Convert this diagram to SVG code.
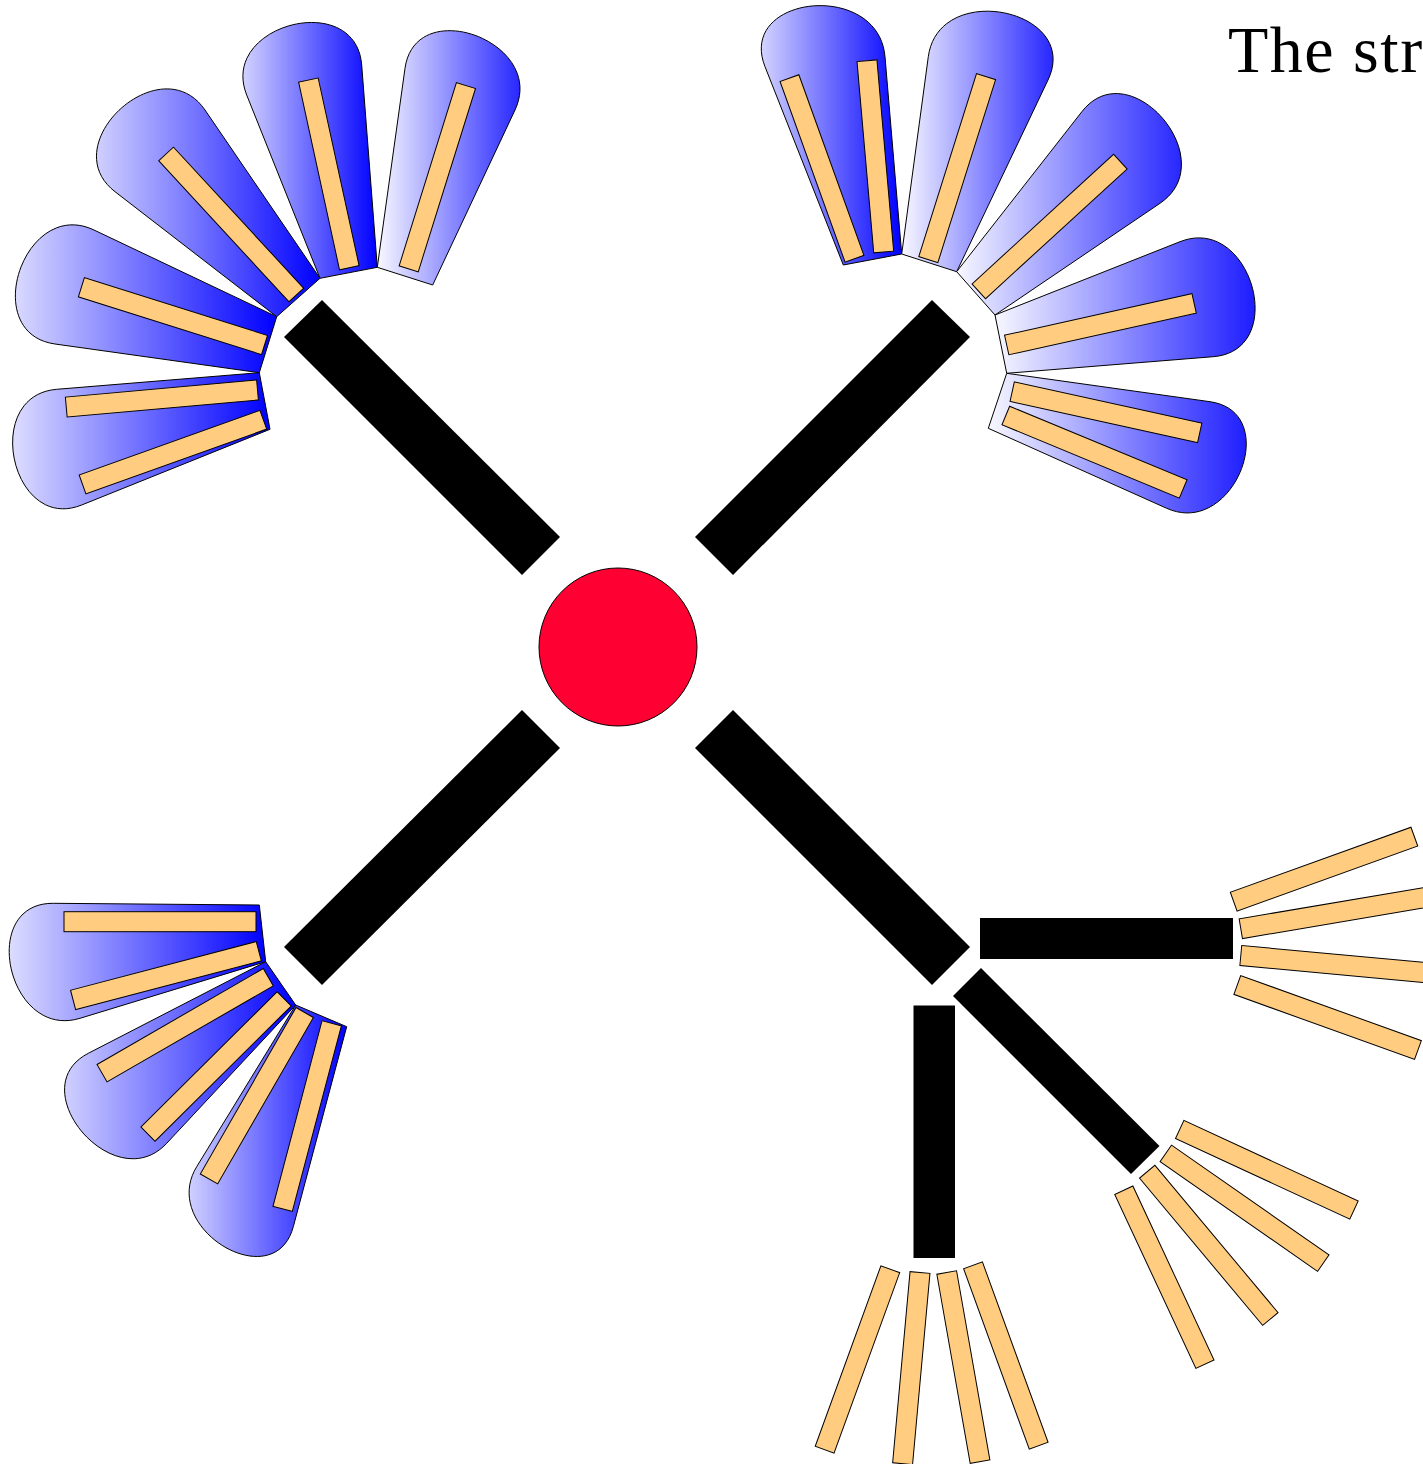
<svg xmlns="http://www.w3.org/2000/svg" xmlns:xlink="http://www.w3.org/1999/xlink" width="1423" height="1464" viewBox="0 0 1423 1464">
<defs>
<linearGradient id="pg">
<stop offset="0" stop-color="#f8f8ff"/>
<stop offset="1" stop-color="#0000ff"/>
</linearGradient>
<linearGradient id="g-tl1" xlink:href="#pg" gradientUnits="userSpaceOnUse" x1="-18.8" y1="0" x2="270" y2="0"/>
<linearGradient id="g-tl2" xlink:href="#pg" gradientUnits="userSpaceOnUse" x1="-21.4" y1="0" x2="276.7" y2="0"/>
<linearGradient id="g-tl3" xlink:href="#pg" gradientUnits="userSpaceOnUse" x1="53.5" y1="0" x2="320" y2="0"/>
<linearGradient id="g-tl4" xlink:href="#pg" gradientUnits="userSpaceOnUse" x1="218.5" y1="0" x2="377.3" y2="0"/>
<linearGradient id="g-tl5" xlink:href="#pg" gradientUnits="userSpaceOnUse" x1="377.3" y1="0" x2="547" y2="0"/>
<linearGradient id="g-tr1" xlink:href="#pg" gradientUnits="userSpaceOnUse" x1="736.7" y1="0" x2="901.7" y2="0"/>
<linearGradient id="g-tr2" xlink:href="#pg" gradientUnits="userSpaceOnUse" x1="901.7" y1="0" x2="1081.6" y2="0"/>
<linearGradient id="g-tr3" xlink:href="#pg" gradientUnits="userSpaceOnUse" x1="956.7" y1="0" x2="1223.8" y2="0"/>
<linearGradient id="g-tr4" xlink:href="#pg" gradientUnits="userSpaceOnUse" x1="995" y1="0" x2="1289.6" y2="0"/>
<linearGradient id="g-tr5" xlink:href="#pg" gradientUnits="userSpaceOnUse" x1="988.3" y1="0" x2="1283" y2="0"/>
<linearGradient id="g-bl1" xlink:href="#pg" gradientUnits="userSpaceOnUse" x1="-22.3" y1="0" x2="265.7" y2="0"/>
<linearGradient id="g-bl2" xlink:href="#pg" gradientUnits="userSpaceOnUse" x1="20.4" y1="0" x2="295.7" y2="0"/>
<linearGradient id="g-bl3" xlink:href="#pg" gradientUnits="userSpaceOnUse" x1="158.7" y1="0" x2="346.7" y2="0"/>
<rect id="leaf" x="0" y="-10" width="192" height="20"/>
</defs>
<style>
.petal{stroke:#000;stroke-width:1}
.leaf{fill:#ffcc80;stroke:#000;stroke-width:1}
.edge{fill:#000;stroke:none}
.root{fill:#ff0033;stroke:#000;stroke-width:1}
.title{font-family:"Liberation Serif","DejaVu Serif",serif;font-size:66px;letter-spacing:1.5px;fill:#000}
</style>
<rect width="1423" height="1464" fill="#fff"/>

<g id="connectors">
<polygon class="edge" points="322,300 560,537 522,575 284,337"/>
<polygon class="edge" points="695,537 932,300 970,337 733,575"/>
<polygon class="edge" points="522,710 560,748 322,985 284,947"/>
<polygon class="edge" points="733,710 970,947 932,985 695,748"/>
<rect class="edge" x="980" y="918" width="253" height="41"/>
<rect class="edge" x="913.5" y="1005.5" width="41.5" height="252.5"/>
<polygon class="edge" points="981,968 1159.5,1146 1131,1174 953,996"/>
</g>

<g id="root"><circle class="root" cx="618" cy="647" r="79"/></g>

<g id="cluster-tl">
<g id="tl-p1"><path class="petal" fill="url(#g-tl1)" d="M259.3,372.7 L56.7,389.3 C-18.8,395.5 11.4,533.3 81.7,505 L270,429.3 Z"/></g>
<g id="tl-p2"><path class="petal" fill="url(#g-tl2)" d="M259.3,372.7 L55,344 C-21.4,333.3 24.3,196.9 94,230 L276.7,316.7 Z"/></g>
<g id="tl-p3"><path class="petal" fill="url(#g-tl3)" d="M276.7,316.7 L115,191.7 C53.5,144.1 161.1,45.8 205,110 L320,278.3 Z"/></g>
<g id="tl-p4"><path class="petal" fill="url(#g-tl4)" d="M320,278.3 L246.7,95 C218.5,24.4 355.9,-10.8 361.7,65 L377.3,267.3 Z"/></g>
<g id="tl-p5"><path class="petal" fill="url(#g-tl5)" d="M377.3,267.3 L405,68.3 C415.4,-6.3 547,41.9 515,110 L432.7,285 Z"/></g>
<g id="tl-b1"><use xlink:href="#leaf" class="leaf" transform="translate(257.5,390) rotate(174.9)"/></g>
<g id="tl-b2"><use xlink:href="#leaf" class="leaf" transform="translate(263.3,419.7) rotate(160.3)"/></g>
<g id="tl-b3"><use xlink:href="#leaf" class="leaf" transform="translate(264.5,345) rotate(197.5)"/></g>
<g id="tl-b4"><use xlink:href="#leaf" class="leaf" transform="translate(296.3,295) rotate(227.3)"/></g>
<g id="tl-b5"><use xlink:href="#leaf" class="leaf" transform="translate(349.3,267.7) rotate(257.7)"/></g>
<g id="tl-b6"><use xlink:href="#leaf" class="leaf" transform="translate(408.7,268.8) rotate(287.35)"/></g>
</g>

<g id="cluster-tr">
<g id="tr-p1"><path class="petal" fill="url(#g-tr1)" d="M843.3,265 L765,66.7 C736.7,-5 878.5,-20.1 885,56.7 L901.7,254 Z"/></g>
<g id="tr-p2"><path class="petal" fill="url(#g-tr2)" d="M901.7,254 L928.3,56.7 C938.7,-20.6 1081.6,9.6 1048,80 L956.7,271.7 Z"/></g>
<g id="tr-p3"><path class="petal" fill="url(#g-tr3)" d="M956.7,271.7 L1082,111.5 C1129.5,50.8 1223.8,160.1 1160,203.3 L995,315 Z"/></g>
<g id="tr-p4"><path class="petal" fill="url(#g-tr4)" d="M995,315 L1180,241.7 C1251.2,213.5 1289.6,350.6 1213.3,356.7 L1006.7,373.3 Z"/></g>
<g id="tr-p5"><path class="petal" fill="url(#g-tr5)" d="M1006.7,373.3 L1210,401.7 C1283,411.9 1234,538.5 1166.7,508.3 L988.3,428.3 Z"/></g>
<g id="tr-b1"><use xlink:href="#leaf" class="leaf" transform="translate(854.5,258.8) rotate(250.2)"/></g>
<g id="tr-b2"><use xlink:href="#leaf" class="leaf" transform="translate(883.7,252) rotate(265)"/></g>
<g id="tr-b3"><use xlink:href="#leaf" class="leaf" transform="translate(928.3,259.7) rotate(287.5)"/></g>
<g id="tr-b4"><use xlink:href="#leaf" class="leaf" transform="translate(978.8,291.3) rotate(317.5)"/></g>
<g id="tr-b5"><use xlink:href="#leaf" class="leaf" transform="translate(1006.7,345) rotate(347.5)"/></g>
<g id="tr-b6"><use xlink:href="#leaf" class="leaf" transform="translate(1012.2,391.7) rotate(12.4)"/></g>
<g id="tr-b7"><use xlink:href="#leaf" class="leaf" transform="translate(1005.8,415.5) rotate(22.5)"/></g>
</g>

<g id="cluster-bl">
<g id="bl-p1"><path class="petal" fill="url(#g-bl1)" d="M259.3,905 L53.3,903.3 C-22.3,902.7 7.7,1040.3 80,1018.3 L265.7,961.7 Z"/></g>
<g id="bl-p2"><path class="petal" fill="url(#g-bl2)" d="M265.7,961.7 L88.3,1053.3 C20.4,1088.3 114.6,1199.2 166.7,1143.3 L295.7,1005 Z"/></g>
<g id="bl-p3"><path class="petal" fill="url(#g-bl3)" d="M295.7,1005 L196.7,1166.7 C158.7,1228.8 274.5,1297 293.3,1226.7 L346.7,1026.7 Z"/></g>
<g id="bl-b1"><use xlink:href="#leaf" class="leaf" transform="translate(256,921.7) rotate(180)"/></g>
<g id="bl-b2"><use xlink:href="#leaf" class="leaf" transform="translate(258.8,951.2) rotate(165.3)"/></g>
<g id="bl-b3"><use xlink:href="#leaf" class="leaf" transform="translate(268.3,977.2) rotate(150)"/></g>
<g id="bl-b4"><use xlink:href="#leaf" class="leaf" transform="translate(284.2,998.8) rotate(135.2)"/></g>
<g id="bl-b5"><use xlink:href="#leaf" class="leaf" transform="translate(304.7,1012.5) rotate(119.9)"/></g>
<g id="bl-b6"><use xlink:href="#leaf" class="leaf" transform="translate(331.7,1023.3) rotate(104.8)"/></g>
</g>

<g id="cluster-br-h">
<g id="brh-1"><use xlink:href="#leaf" class="leaf" transform="translate(1233.7,901.7) rotate(-19.8)"/></g>
<g id="brh-2"><use xlink:href="#leaf" class="leaf" transform="translate(1240.8,928.7) rotate(-9.6)"/></g>
<g id="brh-3"><use xlink:href="#leaf" class="leaf" transform="translate(1240.8,955.5) rotate(5.3)"/></g>
<g id="brh-4"><use xlink:href="#leaf" class="leaf" transform="translate(1237.3,985) rotate(19.8)"/></g>
</g>

<g id="cluster-br-d">
<g id="brd-1"><use xlink:href="#leaf" class="leaf" transform="translate(1179.7,1129.5) rotate(24.8)"/></g>
<g id="brd-2"><use xlink:href="#leaf" class="leaf" transform="translate(1165.8,1153.3) rotate(34.9)"/></g>
<g id="brd-3"><use xlink:href="#leaf" class="leaf" transform="translate(1147.2,1171.7) rotate(50.1)"/></g>
<g id="brd-4"><use xlink:href="#leaf" class="leaf" transform="translate(1123.8,1190.2) rotate(65)"/></g>
</g>

<g id="cluster-br-v">
<g id="brv-1"><use xlink:href="#leaf" class="leaf" transform="translate(890.3,1269.2) rotate(110)"/></g>
<g id="brv-2"><use xlink:href="#leaf" class="leaf" transform="translate(920,1272.5) rotate(95.2)"/></g>
<g id="brv-3"><use xlink:href="#leaf" class="leaf" transform="translate(946.7,1272.5) rotate(80)"/></g>
<g id="brv-4"><use xlink:href="#leaf" class="leaf" transform="translate(973,1265.3) rotate(70)"/></g>
</g>

<g id="title"><text class="title" x="1228" y="72">The str</text></g>
</svg>
